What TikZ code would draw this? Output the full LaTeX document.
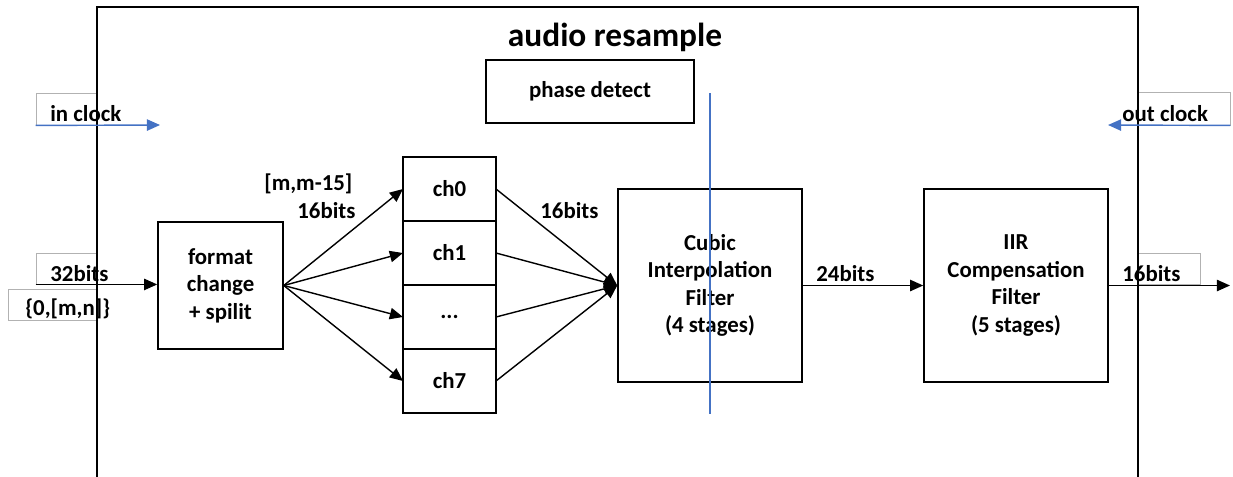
\documentclass[tikz,border=0pt]{standalone}
\usepackage{fontspec}
\setmainfont{Carlito}
\usetikzlibrary{arrows.meta,positioning}
\definecolor{clkblue}{HTML}{4472C4}
\begin{document}
\begin{tikzpicture}[
    font=\fontsize{13}{15.7}\selectfont\bfseries,
    block/.style={rectangle, draw, line width=0.9pt, align=center, inner sep=0pt},
    chblock/.style={rectangle, draw, line width=0.9pt, minimum width=1.86cm, minimum height=1.28cm, inner sep=0pt, outer sep=0pt},
    tagbox/.style={rectangle, draw=black!30, line width=0.5pt, inner sep=0pt},
    tag/.style={inner sep=0pt, anchor=base west},
    arrow/.style={-{Triangle[length=7.5pt,width=6.5pt]}, line width=0.8pt},
    clk/.style={-{Triangle[length=7.5pt,width=6.5pt]}, line width=0.8pt, clkblue}
]
\useasboundingbox (0,0) rectangle (24.66,-9.52);

% label boxes
\node[tagbox, minimum width=1.22cm, minimum height=0.64cm] (inbox) at (1.33,-2.18) {};
\node[tagbox, minimum width=1.22cm, minimum height=0.62cm] (inbitbox) at (1.33,-5.37) {};
\node[tagbox, minimum width=1.78cm, minimum height=0.62cm] (rangebox) at (1.05,-6.09) {};
\node[tagbox, minimum width=1.84cm, minimum height=0.66cm] (outbox) at (23.68,-2.17) {};
\node[tagbox, minimum width=1.24cm, minimum height=0.62cm] (outbitbox) at (23.38,-5.37) {};

% frame
\draw[line width=0.9pt] (1.94,-9.6) |- (22.76,-0.14) -- (22.76,-9.6);
\node[font=\fontsize{19}{22}\selectfont\bfseries] (title) at (12.3,-0.74) {audio resample};

% blocks
\node[block, minimum width=4.16cm, minimum height=1.26cm] (phase) at (11.8,-1.83) {phase detect};
\node[block, minimum width=2.5cm, minimum height=2.54cm] (fmt) at (4.41,-5.71) {format\\change\\+ spilit};
\node[chblock] (ch0) at (8.99,-3.78) {ch0};
\node[chblock, below=0pt of ch0] (ch1) {ch1};
\node[chblock, below=0pt of ch1] (chd) {...};
\node[chblock, below=0pt of chd] (ch7) {ch7};
\node[block, minimum width=3.68cm, minimum height=3.86cm] (cubic) at (14.2,-5.71) {Cubic\\Interpolation\\Filter\\(4 stages)};
\node[block, minimum width=3.68cm, minimum height=3.86cm] (iir) at (20.32,-5.71) {IIR\\Compensation\\Filter\\(5 stages)};

% phase line
\coordinate (ptop) at (14.2,-1.86);
\coordinate (pbot) at (14.2,-8.28);
\draw[clkblue, line width=0.8pt] (ptop) -- (pbot);

% clocks
\coordinate (inclk) at (3.2,-2.5);
\coordinate (outclk) at (22.16,-2.5);
\draw[clk] (inbox.south west) -- (inclk);
\draw[clk] (outbox.south east) -- (outclk);
\node[tag] (intxt) at (1.0,-2.42) {in clock};
\node[tag] (outtxt) at (22.44,-2.42) {out clock};

% data path
\coordinate (dout) at (24.6,-5.71);
\draw[arrow] (inbitbox.south west) -- (fmt.west |- inbitbox.south);
\foreach \c in {ch0,ch1,chd,ch7} {
  \draw[arrow] (fmt.east) -- (\c.west);
  \draw[arrow] (\c.east) -- (cubic.west);
}
\draw[arrow] (cubic.east) -- (iir.west);
\draw[arrow] (iir.east) -- (dout);

% labels
\node[tag] (inbits) at (1.0,-5.62) {32bits};
\node[tag] (range) at (0.5,-6.3) {\{0,[m,n]\}};
\node[tag] (chrange) at (5.28,-3.8) {[m,m-15]};
\node[tag] (chbits) at (5.94,-4.36) {16bits};
\node[tag] (cubbits) at (10.8,-4.36) {16bits};
\node[tag] (iirbits) at (16.32,-5.62) {24bits};
\node[tag] (outbits) at (22.44,-5.62) {16bits};
\end{tikzpicture}
\end{document}
